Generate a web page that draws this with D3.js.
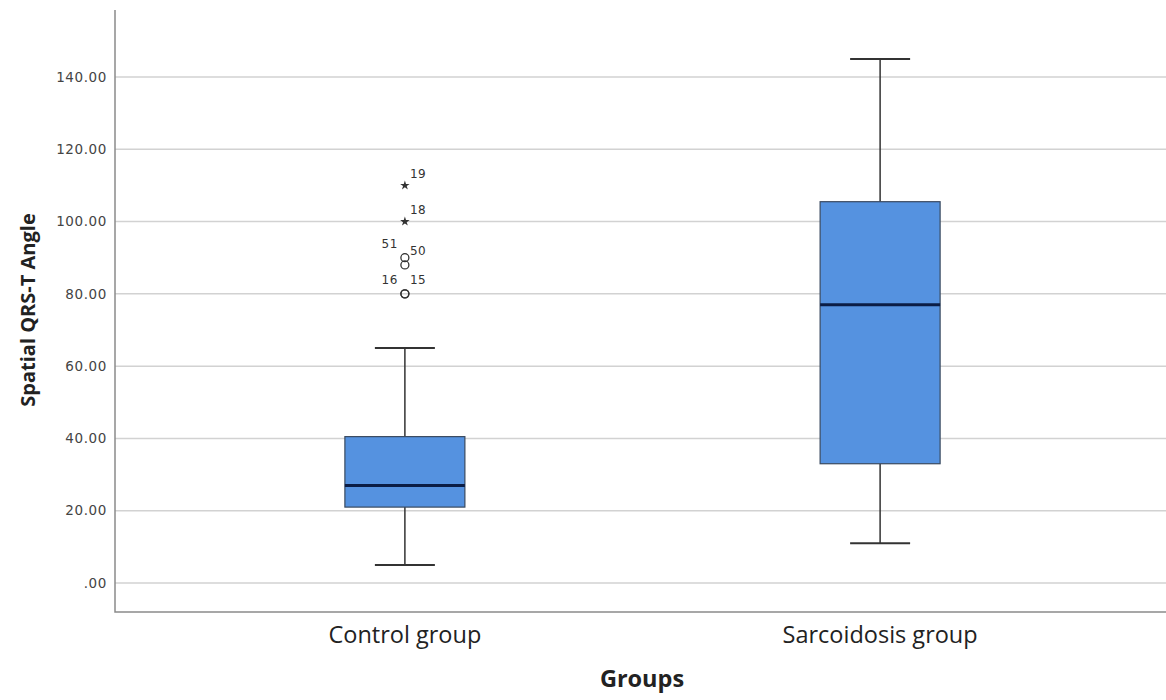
<!DOCTYPE html>
<html>
<head>
<meta charset="utf-8">
<script src="https://cdn.jsdelivr.net/npm/d3@7"></script>
<style>
  html, body { margin: 0; padding: 0; background: #fff; }
  svg { display: block; }
</style>
</head>
<body>
<svg id="chart" width="1166" height="700"></svg>
<script>
// Groups on the x axis
const groups = ["Control group", "Sarcoidosis group"];
// Five-number summaries per group (whisker low, Q1, median, Q3, whisker high)
const whiskerLow = [5, 11];
const q1 = [21, 33];
const median = [27, 77];
const q3 = [40.5, 105.5];
const whiskerHigh = [65, 145];
// Outliers of the control group: case ids, values, kind and label side
const outlierIds = ["19", "18", "51", "50", "16", "15"];
const outlierValues = [110, 100, 90, 88, 80, 80];
const outlierKinds = ["extreme", "extreme", "mild", "mild", "mild", "mild"];
const outlierLabelSide = ["right", "right", "left", "right", "left", "right"];
// Y axis ticks
const yTicks = [0, 20, 40, 60, 80, 100, 120, 140];

const svg = d3.select("#chart");
const plotLeft = 115, plotRight = 1170, plotTop = 10, axisBottom = 612;

const y = d3.scaleLinear().domain([0, 140]).range([583, 77]);
const x = d3.scalePoint().domain(groups).range([plotLeft, plotRight]).padding(0.61);

// Gridlines
svg.append("g")
  .selectAll("line")
  .data(yTicks)
  .join("line")
  .attr("x1", plotLeft).attr("x2", 1166)
  .attr("y1", d => y(d)).attr("y2", d => y(d))
  .attr("stroke", "#d2d2d2").attr("stroke-width", 1.5);

// Axis frame (left and bottom)
svg.append("path")
  .attr("d", `M${plotLeft},${plotTop}V${axisBottom}H1166`)
  .attr("fill", "none").attr("stroke", "#8a8a8a").attr("stroke-width", 1.5);

// Y tick labels
const fmt = d => d === 0 ? ".00" : d3.format(".2f")(d);
svg.append("g")
  .selectAll("text")
  .data(yTicks)
  .join("text")
  .attr("x", 107).attr("y", d => y(d))
  .attr("dy", "0.35em")
  .attr("text-anchor", "end")
  .attr("font-family", "DejaVu Sans")
  .attr("font-size", 13.5)
  .attr("letter-spacing", 0.6)
  .attr("fill", "#444")
  .text(fmt);

// X category labels
svg.append("g")
  .selectAll("text")
  .data(groups)
  .join("text")
  .attr("x", d => x(d)).attr("y", 643)
  .attr("text-anchor", "middle")
  .attr("font-family", "Open Sans")
  .attr("font-size", 23.5)
  .attr("fill", "#222")
  .text(d => d);

// Axis titles
svg.append("text")
  .attr("x", 642).attr("y", 687)
  .attr("text-anchor", "middle")
  .attr("font-family", "Open Sans").attr("font-weight", "bold")
  .attr("font-size", 23.5).attr("fill", "#222")
  .text("Groups");

svg.append("text")
  .attr("transform", "translate(35,310) rotate(-90)")
  .attr("text-anchor", "middle")
  .attr("font-family", "Open Sans").attr("font-weight", "bold")
  .attr("font-size", 20).attr("fill", "#222")
  .text("Spatial QRS-T Angle");

// Box plots
const boxW = 120, capW = 60;
const boxes = svg.append("g");
groups.forEach((g, i) => {
  const cx = x(g);
  const gg = boxes.append("g");
  // whisker stems
  gg.append("line").attr("x1", cx).attr("x2", cx)
    .attr("y1", y(whiskerHigh[i])).attr("y2", y(q3[i]))
    .attr("stroke", "#333").attr("stroke-width", 1.5);
  gg.append("line").attr("x1", cx).attr("x2", cx)
    .attr("y1", y(q1[i])).attr("y2", y(whiskerLow[i]))
    .attr("stroke", "#333").attr("stroke-width", 1.5);
  // caps
  [whiskerHigh[i], whiskerLow[i]].forEach(v => {
    gg.append("line").attr("x1", cx - capW / 2).attr("x2", cx + capW / 2)
      .attr("y1", y(v)).attr("y2", y(v))
      .attr("stroke", "#333").attr("stroke-width", 2);
  });
  // box
  gg.append("rect")
    .attr("x", cx - boxW / 2).attr("width", boxW)
    .attr("y", y(q3[i])).attr("height", y(q1[i]) - y(q3[i]))
    .attr("fill", "#5592e0").attr("stroke", "#3a4a60").attr("stroke-width", 1.2);
  // median
  gg.append("line").attr("x1", cx - boxW / 2).attr("x2", cx + boxW / 2)
    .attr("y1", y(median[i])).attr("y2", y(median[i]))
    .attr("stroke", "#0b1d45").attr("stroke-width", 3);
});

// Outliers (control group)
const cx0 = x(groups[0]);
const out = svg.append("g");
const star = d3.symbol().type(d3.symbolStar).size(28);
outlierValues.forEach((v, i) => {
  const py = y(v);
  const extreme = outlierKinds[i] === "extreme";
  if (extreme) {
    out.append("path").attr("d", star())
      .attr("transform", `translate(${cx0},${py})`)
      .attr("fill", "#333");
  } else {
    out.append("circle").attr("cx", cx0).attr("cy", py).attr("r", 4)
      .attr("fill", "none").attr("stroke", "#333").attr("stroke-width", 1.3);
  }
  const side = outlierLabelSide[i];
  out.append("text")
    .attr("x", side === "right" ? cx0 + 5 : cx0 - 7)
    .attr("y", py - (extreme ? 12 : 14))
    .attr("dy", "0.35em")
    .attr("text-anchor", side === "right" ? "start" : "end")
    .attr("font-family", "DejaVu Sans")
    .attr("font-size", 12)
    .attr("letter-spacing", 0.5)
    .attr("fill", "#333")
    .text(outlierIds[i]);
});
</script>
</body>
</html>
